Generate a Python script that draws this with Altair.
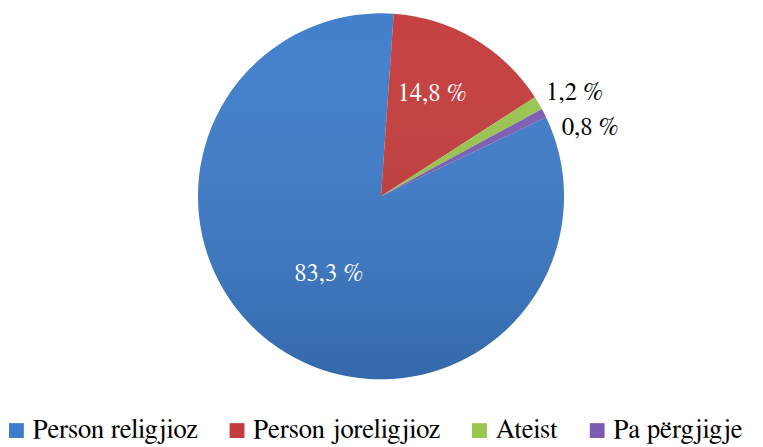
import math
import altair as alt
import pandas as pd

CATEGORIES = ["Person religjioz", "Person joreligjioz", "Ateist", "Pa përgjigje"]
VALUES = [83.3, 14.8, 1.2, 0.8]
LABELS = ["83,3 %", "14,8 %", "1,2 %", "0,8 %"]
COLORS = ["#3D7CCB", "#C43B3B", "#98C64E", "#7C5CB2"]

df = pd.DataFrame({"cat": CATEGORIES, "value": VALUES, "label": LABELS,
                   "order": list(range(len(CATEGORIES)))})

FONT = "FreeSerif"
CX, CY, R = 377, 188, 185
start = math.radians(64.4)
theta_scale = alt.Scale(range=[start, start + 2 * math.pi])

base = alt.Chart(df).encode(
    theta=alt.Theta("value:Q", stack=True, scale=theta_scale),
    order=alt.Order("order:Q"),
    x=alt.value(CX),
    y=alt.value(CY),
)

pie = base.mark_arc(outerRadius=R).encode(
    color=alt.Color(
        "cat:N",
        sort=CATEGORIES,
        scale=alt.Scale(domain=CATEGORIES, range=COLORS),
        legend=alt.Legend(
            title=None,
            orient="none",
            direction="horizontal",
            legendX=-5,
            legendY=411,
            padding=0,
            symbolType="square",
            symbolSize=225,
            symbolStrokeWidth=0,
            labelFont=FONT,
            labelFontSize=27,
            labelColor="black",
            labelLimit=400,
            labelOffset=3,
            columnPadding=26,
        ),
    )
)

shade = alt.Chart(pd.DataFrame({"a": [0]})).mark_arc(
    outerRadius=R,
    theta=0,
    theta2=2 * math.pi,
    fill=alt.LinearGradient(
        gradient="linear",
        stops=[
            alt.GradientStop(color="rgba(255,255,255,0.03)", offset=0),
            alt.GradientStop(color="rgba(0,0,0,0.16)", offset=1),
        ],
        x1=0, x2=0, y1=0, y2=1,
    ),
).encode(x=alt.value(CX), y=alt.value(CY))


def label_layer(cat, radius, color, dx, dy):
    return base.mark_text(
        radius=radius, font=FONT, fontSize=25, color=color,
        align="center", baseline="middle", dx=dx, dy=dy,
    ).encode(
        text=alt.condition(alt.datum.cat == cat, "label:N", alt.value(""))
    )


labels = [
    label_layer(CATEGORIES[0], 94, "white", 0, 0),
    label_layer(CATEGORIES[1], 117, "white", -8, -4),
    label_layer(CATEGORIES[2], 225, "black", 2, 9),
    label_layer(CATEGORIES[3], 225, "black", 11, 32),
]

chart = alt.layer(pie, shade, *labels).properties(
    width=755, height=439,
    autosize=alt.AutoSizeParams(type="none"),
    padding=0,
).configure_view(stroke=None)

chart.save("out.html", embed_options={"renderer": "svg", "actions": False})
